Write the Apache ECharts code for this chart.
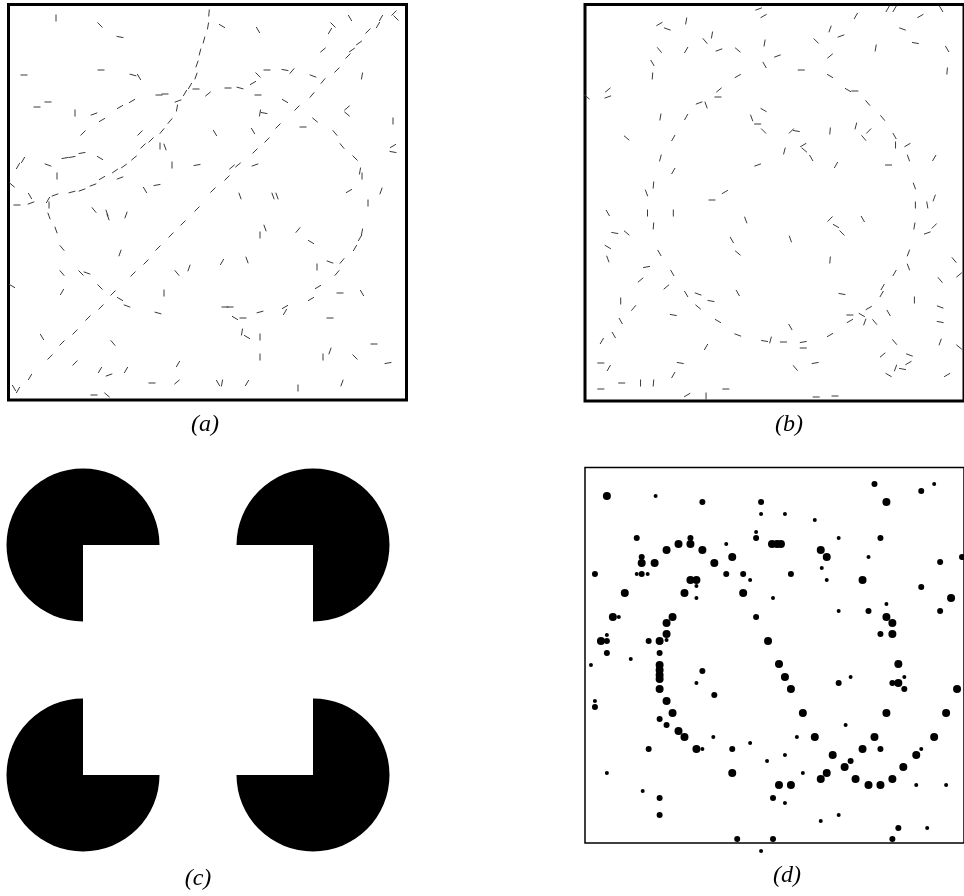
<!DOCTYPE html>
<html>
<head>
<meta charset="utf-8">
<script src="https://cdn.jsdelivr.net/npm/echarts@6/dist/echarts.min.js"></script>
<style>
html,body{margin:0;padding:0;background:#fff;}
#chart{width:964px;height:896px;}
</style>
</head>
<body>
<div id="chart"></div>
<script>
// ---- Panel labels ----
const panelLabels = ['(a)', '(b)', '(c)', '(d)'];

// ---- Panel (a): short oriented edge segments [x, y, angleDeg] ----
const segmentsA = [
[56,18,90],[100,25,-45],[120,37,-10],[24,75,0],[101,70,0],[133,75,-15],[139,77,-60],
[209,13,85],[208,26,80],[204,40,75],[200,52,75],[197,64,70],[196,76,70],[190,86,60],[196,89,0],[208,94,40],[185,93,60],[178,101,20],[177,108,80],[159,95,0],[165,94,0],
[48,102,0],[37,107,0],[75,113,90],[94,114,20],[120,107,30],[132,101,30],[102,120,30],[170,121,50],[162,131,50],[83,133,45],[140,133,45],[151,140,45],[143,146,45],[160,146,90],[165,147,-70],[82,153,10],[65,158,10],[72,157,10],[23,160,60],[18,166,60],[100,158,-30],[134,158,40],[48,165,-20],[124,166,35],[172,165,90],[197,165,10],[115,171,35],[120,178,20],[57,176,90],[102,178,30],[93,185,20],[82,190,20],[72,192,15],[55,195,20],[48,200,60],[49,205,90],[157,185,10],[145,190,-60],[30,196,-60],[17,205,0],[12,185,-40],
[222,26,-30],[258,30,-60],[333,25,-45],[330,31,60],[350,18,-60],[381,18,60],[378,25,60],[394,13,45],[396,18,-45],[368,31,45],[359,43,35],[352,50,35],[348,56,45],[323,50,40],[337,70,45],[323,81,50],[313,76,-20],[362,76,80],[267,70,0],[285,70,-10],[292,71,50],[258,75,-45],[253,83,30],[228,88,0],[240,88,-15],[258,95,0],[312,95,50],[285,101,-30],[297,108,45],[260,113,80],[264,113,-10],[315,120,-40],[347,108,40],[347,114,-40],[303,127,0],[278,126,45],[393,121,90],[215,133,-60],[253,131,-60],[267,140,45],[335,133,-50],[342,146,-50],[393,146,30],[393,152,-10],[255,151,45],[355,158,-45],[238,165,40],[232,167,40],[255,165,20],[360,171,80],[362,176,90],[227,178,45],[213,190,45],[240,196,-70],[273,196,-70],[277,196,-70],[349,191,30],[381,191,70],[368,203,90],
[31,203,20],[49,216,-70],[56,230,-70],[94,210,-50],[107,213,-70],[108,217,-70],[126,215,70],[197,209,45],[183,223,45],[171,235,45],[158,248,45],[146,262,45],[62,248,-50],[120,253,70],[133,274,45],[62,273,-50],[81,273,-45],[87,273,-20],[177,273,-50],[189,268,70],[12,286,-30],[62,292,60],[100,287,-45],[113,293,45],[164,293,90],[120,299,-30],[127,306,-20],[158,313,-15],[101,307,45],[88,318,45],[75,332,45],[42,337,-60],[62,343,45],[113,343,-50],[50,357,45],[75,363,45],[100,370,60],[109,375,20],[126,370,60],[178,364,60],[30,377,60],[177,382,40],[152,383,0],[14,388,-60],[18,390,60],[94,395,0],[107,395,-40],
[265,228,-70],[260,235,90],[298,230,50],[362,232,80],[360,238,60],[311,242,-30],[355,248,60],[222,262,60],[247,260,-70],[317,267,90],[330,262,-20],[342,261,50],[337,273,50],[318,287,30],[340,293,0],[362,293,-60],[311,299,30],[225,307,0],[230,307,0],[285,307,30],[285,312,60],[260,312,15],[235,318,-30],[243,318,0],[330,318,0],[242,332,80],[247,337,-30],[260,337,90],[374,344,0],[330,351,70],[323,357,90],[260,357,90],[355,357,-45],[388,363,10],[218,383,-60],[222,383,80],[247,383,60],[298,388,90],[342,383,70]
];

// ---- Panel (b): short oriented edge segments [x, y, angleDeg] ----
const segmentsB = [
[760,9,20],[765,16,30],[660,24,30],[687,21,80],[668,29,-20],[713,35,80],[706,41,-50],[660,50,-50],[687,50,60],[720,50,20],[739,50,-40],[766,43,80],[653,63,-60],[766,65,-60],[653,76,85],[739,76,30],[608,90,40],[608,97,20],[587,97,-40],[720,90,40],[719,97,0],[700,103,20],[707,105,-70],[661,117,80],[687,117,60],[753,118,-70],[765,110,-30],[759,124,0],[765,131,-45],[627,138,-40],[674,138,60],[661,158,75],[674,171,60],[759,165,20],[647,193,-70],[654,185,85],[713,200,0],[726,192,30],
[890,9,60],[897,9,60],[944,9,-60],[858,16,60],[923,16,30],[832,29,70],[843,36,20],[905,29,-20],[818,41,-45],[918,43,-10],[878,48,80],[950,49,-60],[779,56,20],[832,56,40],[803,70,0],[832,76,-30],[950,71,85],[850,90,-30],[857,91,0],[870,103,-50],[885,118,-50],[793,131,45],[798,131,-10],[832,131,85],[858,126,75],[871,131,45],[866,138,-50],[897,136,-60],[898,145,90],[910,145,30],[805,145,30],[806,150,-40],[813,158,-60],[786,151,75],[911,158,-70],[937,158,60],[891,165,0],[838,165,60],[917,186,-70],[937,198,70],[918,205,90],[930,205,-80],
[608,213,-60],[648,213,90],[674,213,90],[747,220,-70],[654,226,85],[615,233,-10],[627,233,-40],[733,240,-60],[608,247,-30],[608,259,-70],[660,253,-60],[739,253,-40],[647,267,10],[673,273,-60],[641,280,40],[667,287,40],[687,294,-60],[699,294,-20],[712,301,-10],[739,293,-60],[621,301,90],[634,308,50],[699,307,-40],[674,315,-10],[621,321,-60],[719,321,-30],[614,335,-60],[739,335,-20],[766,341,-10],[772,340,75],[602,341,60],[707,347,60],[601,363,0],[609,368,60],[681,363,-10],[674,375,60],[622,383,0],[641,383,90],[654,383,85],[601,389,0],[688,395,30],[707,396,90],[727,389,0],
[832,219,45],[838,226,-30],[844,233,-45],[865,219,-60],[917,226,80],[937,226,45],[930,233,20],[792,239,-70],[832,260,85],[911,253,70],[911,267,-70],[957,260,-50],[897,273,60],[962,275,40],[943,280,-50],[885,287,60],[884,294,60],[844,294,-10],[917,300,90],[871,308,30],[943,307,-20],[852,315,0],[864,315,-30],[867,322,70],[877,322,-50],[852,321,30],[891,313,-60],[943,322,-10],[792,327,-60],[832,335,30],[785,342,0],[805,342,10],[805,348,0],[897,342,-50],[943,342,70],[962,347,-40],[885,355,40],[912,355,-20],[911,363,30],[817,363,10],[797,368,-50],[898,368,70],[905,369,-10],[891,375,-30],[950,375,30],[818,397,0],[837,396,0]
];

// ---- Panel (c): Kanizsa inducers [cx, cy, radius, missingQuadrantStartDeg] ----
const pacmenC = [
[83,545,76.5,0],
[313,545,76.5,90],
[83,775,76.5,270],
[313,775,76.5,180]
];

// ---- Panel (d): dots [x, y, weight(1 small,2 medium,3 large)] ----
const dotsD = [
[607,496,3],[656,496,1],[703,502,2],[762,502,2],[762,514,1],[637,538,2],[679,544,3],[667,550,3],[691,538,2],[691,544,3],[703,550,3],[727,544,1],[757,532,1],[757,538,2],[642,557,2],[642,563,3],[655,563,3],[715,563,3],[733,557,3],[595,574,2],[637,574,1],[642,574,2],[648,574,1],[727,574,2],[744,574,2],[751,580,1],[691,580,3],[697,580,3],[697,586,1],[625,593,3],[685,593,3],[744,593,3],[697,598,1],[774,598,1],[613,617,3],[619,617,1],[673,617,3],[757,617,2],[667,623,3],[667,634,3],[667,640,1],[601,641,3],[607,641,2],[607,635,1],[649,641,2],[660,641,3],[769,641,3],[607,653,2],[660,653,2],[631,659,1],[591,665,1],[660,665,3],[660,670,3],[660,675,3],[660,679,3],[703,671,2],[697,683,1],[660,689,3],[715,695,2],[595,701,1],[595,707,2],[667,701,3],[673,713,3],[660,719,2],[667,725,2],[679,731,3],[685,737,3],[714,737,1],[751,743,1],[649,749,2],[697,749,3],[703,749,1],[733,749,2],[768,761,1],[607,773,1],[733,773,3],[643,791,1],[660,798,2],[774,798,2],[660,815,2],[738,839,2],[774,839,2],[762,851,1],
[876,484,2],[923,491,2],[936,484,1],[888,502,3],[786,514,1],[816,520,1],[773,544,3],[778,544,3],[782,544,3],[840,538,1],[882,538,2],[822,550,3],[828,557,3],[870,557,1],[942,562,2],[964,557,2],[823,568,1],[792,574,2],[828,580,1],[864,580,3],[923,587,2],[953,598,3],[840,611,1],[870,611,2],[888,604,1],[942,611,2],[888,617,3],[894,623,3],[882,634,2],[894,634,3],[780,664,3],[900,664,3],[786,677,3],[852,677,1],[840,683,2],[894,683,2],[900,683,3],[906,677,1],[906,689,2],[792,689,3],[959,689,3],[804,713,3],[888,713,3],[948,713,3],[847,725,1],[798,737,1],[816,737,3],[876,737,3],[936,737,3],[864,749,3],[882,749,2],[834,755,3],[786,755,1],[918,755,3],[923,749,1],[852,761,2],[846,767,3],[905,767,3],[828,773,3],[804,773,1],[822,779,3],[857,779,3],[894,779,3],[780,785,3],[792,785,3],[870,785,3],[882,785,3],[918,785,1],[948,785,1],[786,803,1],[840,815,1],[822,821,1],[900,828,2],[929,828,1],[894,839,2]
];

// ---- rendering ----
const SEG_LEN = 7;
const DOT_SIZE = {1: 4, 2: 6, 3: 8};

function segRender(params, api) {
  const p = api.coord([api.value(0), api.value(1)]);
  const a = api.value(2) * Math.PI / 180;
  const h = SEG_LEN / 2;
  return {
    type: 'line',
    shape: {x1: p[0] - h*Math.cos(a), y1: p[1] + h*Math.sin(a), x2: p[0] + h*Math.cos(a), y2: p[1] - h*Math.sin(a)},
    style: {stroke: '#3a3a3a', lineWidth: 1}
  };
}
function pacRender(params, api) {
  const p = api.coord([api.value(0), api.value(1)]);
  const r = api.size([api.value(2), 0])[0];
  const gap = api.value(3);
  return {
    type: 'sector',
    shape: {cx: p[0], cy: p[1], r: r, r0: 0,
      startAngle: (gap + 90) * Math.PI / 180, endAngle: (gap + 360) * Math.PI / 180, clockwise: true},
    style: {fill: '#000'}
  };
}

const chart = echarts.init(document.getElementById('chart'), null, {renderer: 'canvas'});
const option = {
  animation: false,
  backgroundColor: '#fff',
  grid: [
    {left: 8.5, top: 4.5, width: 398, height: 395.5, show: true, borderColor: '#000', borderWidth: 3, backgroundColor: 'transparent'},
    {left: 585, top: 4.5, width: 382, height: 396.5, show: true, borderColor: '#000', borderWidth: 3, backgroundColor: 'transparent'},
    {left: 0, top: 440, width: 400, height: 440, show: false},
    {left: 585, top: 467.5, width: 381, height: 375.5, show: true, borderColor: '#000', borderWidth: 1.5, backgroundColor: 'transparent'}
  ],
  xAxis: [
    {gridIndex: 0, type: 'value', min: 8.5, max: 406.5, show: false},
    {gridIndex: 1, type: 'value', min: 585, max: 967, show: false},
    {gridIndex: 2, type: 'value', min: 0, max: 400, show: false},
    {gridIndex: 3, type: 'value', min: 585, max: 966, show: false}
  ],
  yAxis: [
    {gridIndex: 0, type: 'value', min: 4.5, max: 400, inverse: true, show: false},
    {gridIndex: 1, type: 'value', min: 4.5, max: 401, inverse: true, show: false},
    {gridIndex: 2, type: 'value', min: 440, max: 880, inverse: true, show: false},
    {gridIndex: 3, type: 'value', min: 467.5, max: 843, inverse: true, show: false}
  ],
  series: [
    {type: 'custom', xAxisIndex: 0, yAxisIndex: 0, data: segmentsA, renderItem: segRender, encode: {x: 0, y: 1}, silent: true},
    {type: 'custom', xAxisIndex: 1, yAxisIndex: 1, data: segmentsB, renderItem: segRender, encode: {x: 0, y: 1}, silent: true},
    {type: 'custom', xAxisIndex: 2, yAxisIndex: 2, data: pacmenC, renderItem: pacRender, encode: {x: 0, y: 1}, silent: true},
    {type: 'scatter', xAxisIndex: 3, yAxisIndex: 3, data: dotsD, symbol: 'circle',
      symbolSize: v => DOT_SIZE[v[2]], itemStyle: {color: '#000', opacity: 1}, clip: false, silent: true}
  ],
  graphic: [
    {type: 'text', x: 205, y: 425, style: {text: panelLabels[0], font: 'italic 24px "Liberation Serif"', fill: '#000', align: 'center', verticalAlign: 'middle'}},
    {type: 'text', x: 789, y: 425, style: {text: panelLabels[1], font: 'italic 24px "Liberation Serif"', fill: '#000', align: 'center', verticalAlign: 'middle'}},
    {type: 'text', x: 198, y: 879, style: {text: panelLabels[2], font: 'italic 24px "Liberation Serif"', fill: '#000', align: 'center', verticalAlign: 'middle'}},
    {type: 'text', x: 787, y: 876, style: {text: panelLabels[3], font: 'italic 24px "Liberation Serif"', fill: '#000', align: 'center', verticalAlign: 'middle'}}
  ]
};
chart.setOption(option);
</script>
</body>
</html>
